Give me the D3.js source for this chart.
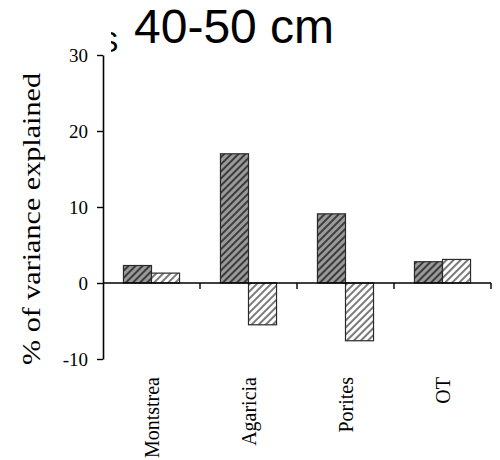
<!DOCTYPE html>
<html>
<head>
<meta charset="utf-8">
<script src="https://cdn.jsdelivr.net/npm/d3@7"></script>
<style>
  body { margin: 0; background: #fff; }
  svg { display: block; }
</style>
</head>
<body>
<svg id="chart"></svg>
<script>
// data
const categories = ["Montstrea", "Agaricia", "Porites", "OT"];
const seriesNames = ["dark", "light"];
const darkValues = [2.3, 17.0, 9.1, 2.8];
const lightValues = [1.3, -5.5, -7.6, 3.1];
const yTicks = [-10, 0, 10, 20, 30];

const width = 500, height = 460;
const margin = { top: 55, right: 9, bottom: 101, left: 103 };

const svg = d3.select("#chart")
    .attr("width", width)
    .attr("height", height);

// hatch patterns
const defs = svg.append("defs");
function hatch(id, bg, fg) {
  const p = defs.append("pattern")
      .attr("id", id)
      .attr("patternUnits", "userSpaceOnUse")
      .attr("width", 5)
      .attr("height", 5)
      .attr("patternTransform", "rotate(45)");
  p.append("rect").attr("width", 5).attr("height", 5).attr("fill", bg);
  p.append("rect").attr("width", 2).attr("height", 5).attr("fill", fg);
}
hatch("hatchDark", "#9a9a9a", "#3c3c3c");
hatch("hatchLight", "#ffffff", "#7a7a7a");

const x = d3.scaleBand()
    .domain(categories)
    .range([margin.left, width - margin.right])
    .paddingInner(0)
    .paddingOuter(0);

const x1 = d3.scaleBand()
    .domain(seriesNames)
    .range([0, x.bandwidth()])
    .paddingInner(0)
    .paddingOuter(0.73);

const y = d3.scaleLinear()
    .domain([-10, 30])
    .range([height - margin.bottom, margin.top]);

const rows = categories.map((c, i) => ({ cat: c, dark: darkValues[i], light: lightValues[i] }));

// bars
const groups = svg.append("g").selectAll("g")
  .data(rows)
  .enter()
  .append("g")
    .attr("transform", d => `translate(${x(d.cat)},0)`);

groups.selectAll("rect")
  .data(d => seriesNames.map(s => ({ key: s, value: d[s] })))
  .enter()
  .append("rect")
    .attr("x", d => x1(d.key))
    .attr("y", d => y(Math.max(0, d.value)))
    .attr("width", x1.bandwidth())
    .attr("height", d => Math.abs(y(d.value) - y(0)))
    .attr("fill", d => d.key === "dark" ? "url(#hatchDark)" : "url(#hatchLight)")
    .attr("stroke", "#2a2a2a")
    .attr("stroke-width", 1.2);

// y axis
const yAxisG = svg.append("g")
    .attr("transform", `translate(${margin.left},0)`)
    .call(d3.axisLeft(y).tickValues(yTicks).tickSize(6).tickSizeOuter(0).tickPadding(9)
      .tickFormat(d => String(d)));
yAxisG.select(".domain").attr("stroke", "#000").attr("stroke-width", 1.6);
yAxisG.selectAll(".tick line").attr("stroke", "#000").attr("stroke-width", 1.4);
yAxisG.selectAll("text")
    .style("font-family", "'Liberation Serif', 'Times New Roman', serif")
    .style("font-size", "19px")
    .attr("fill", "#000");

// x axis along zero
const xAxisG = svg.append("g");
xAxisG.append("line")
    .attr("x1", margin.left)
    .attr("x2", width - margin.right)
    .attr("y1", y(0))
    .attr("y2", y(0))
    .attr("stroke", "#000")
    .attr("stroke-width", 1.6);
xAxisG.selectAll(".xtick")
  .data(categories)
  .enter()
  .append("line")
    .attr("x1", d => x(d) + x.bandwidth())
    .attr("x2", d => x(d) + x.bandwidth())
    .attr("y1", y(0))
    .attr("y2", y(0) + 6)
    .attr("stroke", "#000")
    .attr("stroke-width", 1.4);

// category labels
svg.append("g").selectAll("text")
  .data(categories)
  .enter()
  .append("text")
    .attr("transform", d => `translate(${x(d) + x.bandwidth() / 2},377) rotate(-90)`)
    .attr("dy", "0.35em")
    .attr("text-anchor", "end")
    .style("font-family", "'Liberation Serif', 'Times New Roman', serif")
    .style("font-size", "20px")
    .text(d => d);

// y label
svg.append("text")
    .attr("transform", "translate(40,219) rotate(-90)")
    .attr("text-anchor", "middle")
    .attr("textLength", 292)
    .attr("lengthAdjust", "spacingAndGlyphs")
    .style("font-family", "'Liberation Serif', 'Times New Roman', serif")
    .style("font-size", "26px")
    .text("% of variance explained");

// partly hidden letter behind the title
defs.append("clipPath").attr("id", "clipS")
  .append("rect").attr("x", 111).attr("y", 20).attr("width", 10).attr("height", 40);
svg.append("text")
    .attr("x", 99)
    .attr("y", 52)
    .attr("clip-path", "url(#clipS)")
    .style("font-family", "'Liberation Sans', Arial, sans-serif")
    .style("font-size", "29px")
    .text("S");

// title
svg.append("text")
    .attr("x", 134)
    .attr("y", 43)
    .style("font-family", "'Liberation Sans', Arial, sans-serif")
    .style("font-size", "48px")
    .text("40-50 cm");
</script>
</body>
</html>
